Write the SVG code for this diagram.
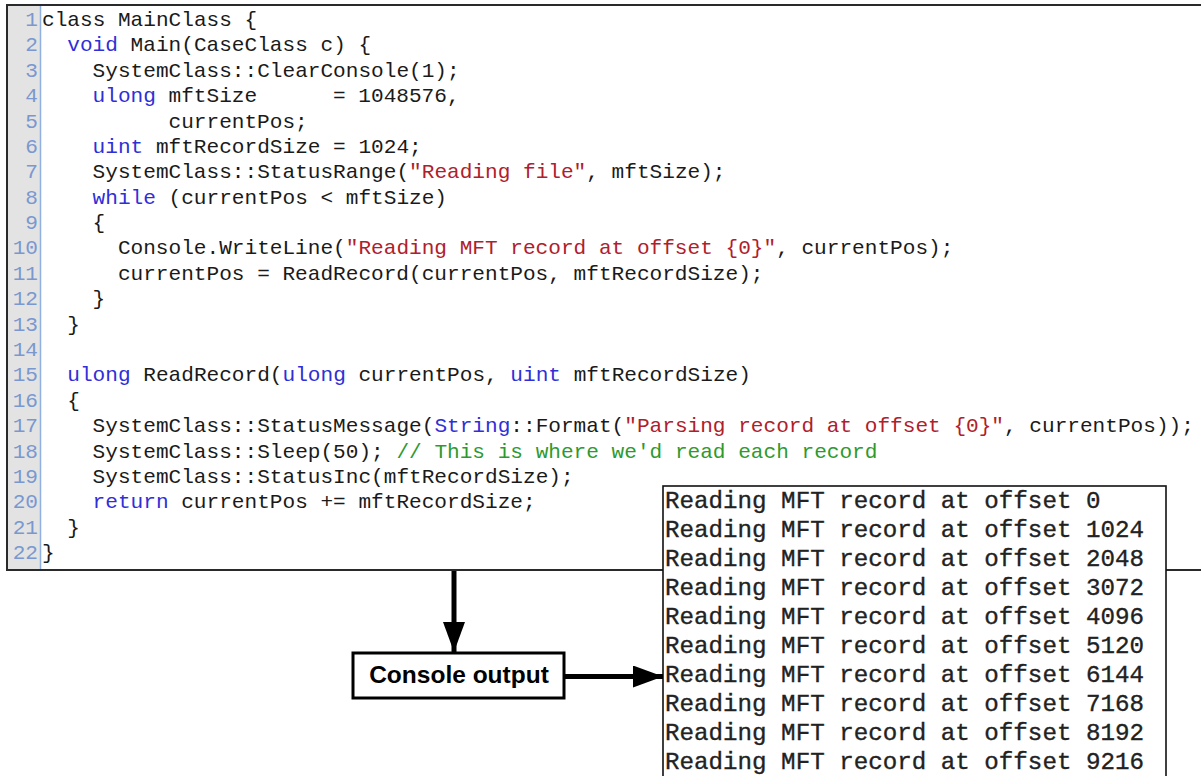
<svg xmlns="http://www.w3.org/2000/svg" width="1201" height="776" viewBox="0 0 1201 776">
<style>
.code{font-family:"Liberation Mono","DejaVu Sans Mono",monospace;font-size:21.1px;fill:#1a1a1a}
.ln{font-family:"Liberation Mono","DejaVu Sans Mono",monospace;font-size:21.1px;fill:#7a98cf;text-anchor:end}
.kw{fill:#2f2fd8}
.str{fill:#b0202a}
.cm{fill:#2e9a2e}
.con{font-family:"Courier New","Liberation Mono",monospace;font-size:24.2px;fill:#222;stroke:#222;stroke-width:0.35}
.lbl{font-family:"Liberation Sans",Arial,sans-serif;font-size:24.5px;font-weight:bold;fill:#000;text-anchor:middle}
</style>
<defs>
<marker id="ah" markerWidth="6" markerHeight="4.4" refX="6" refY="2.2" orient="auto" markerUnits="strokeWidth">
<path d="M0,0 L6,2.2 L0,4.4 Z" fill="#000"/>
</marker>
</defs>
<rect width="1201" height="776" fill="#fff"/>
<g id="code">
<rect x="7" y="5" width="1210" height="565" fill="#fff" stroke="#2a2a2a" stroke-width="2"/>
<rect x="8" y="6" width="32" height="563" fill="#e3e3e3"/>
<line x1="40.5" y1="6" x2="40.5" y2="569" stroke="#8fb0e0" stroke-width="1.5"/>
<g class="ln">
<text x="38" y="26">1</text><text x="38" y="51.4">2</text><text x="38" y="76.8">3</text><text x="38" y="102.1">4</text><text x="38" y="127.5">5</text><text x="38" y="152.9">6</text><text x="38" y="178.3">7</text><text x="38" y="203.7">8</text><text x="38" y="229">9</text><text x="38" y="254.4">10</text><text x="38" y="279.8">11</text><text x="38" y="305.2">12</text><text x="38" y="330.6">13</text><text x="38" y="355.9">14</text><text x="38" y="381.3">15</text><text x="38" y="406.7">16</text><text x="38" y="432.1">17</text><text x="38" y="457.5">18</text><text x="38" y="482.8">19</text><text x="38" y="508.2">20</text><text x="38" y="533.6">21</text><text x="38" y="559">22</text>
</g>
<g class="code">
<text x="42" y="26">class MainClass {</text>
<text x="67.3" y="51.4"><tspan class="kw">void</tspan> Main(CaseClass c) {</text>
<text x="92.6" y="76.8">SystemClass::ClearConsole(1);</text>
<text x="92.6" y="102.1"><tspan class="kw">ulong</tspan> mftSize<tspan x="333">= 1048576,</tspan></text>
<text x="168.5" y="127.5">currentPos;</text>
<text x="92.6" y="152.9"><tspan class="kw">uint</tspan> mftRecordSize = 1024;</text>
<text x="92.6" y="178.3">SystemClass::StatusRange(<tspan class="str">"Reading file"</tspan>, mftSize);</text>
<text x="92.6" y="203.7"><tspan class="kw">while</tspan> (currentPos &lt; mftSize)</text>
<text x="92.6" y="229">{</text>
<text x="117.9" y="254.4">Console.WriteLine(<tspan class="str">"Reading MFT record at offset {0}"</tspan>, currentPos);</text>
<text x="117.9" y="279.8">currentPos = ReadRecord(currentPos, mftRecordSize);</text>
<text x="92.6" y="305.2">}</text>
<text x="67.3" y="330.6">}</text>
<text x="67.3" y="381.3"><tspan class="kw">ulong</tspan> ReadRecord(<tspan class="kw">ulong</tspan> currentPos, <tspan class="kw">uint</tspan> mftRecordSize)</text>
<text x="67.3" y="406.7">{</text>
<text x="92.6" y="432.1">SystemClass::StatusMessage(<tspan class="kw">String</tspan>::Format(<tspan class="str">"Parsing record at offset {0}"</tspan>, currentPos));</text>
<text x="92.6" y="457.5">SystemClass::Sleep(50); <tspan class="cm">// This is where we'd read each record</tspan></text>
<text x="92.6" y="482.8">SystemClass::StatusInc(mftRecordSize);</text>
<text x="92.6" y="508.2"><tspan class="kw">return</tspan> currentPos += mftRecordSize;</text>
<text x="67.3" y="533.6">}</text>
<text x="42" y="559">}</text>
</g>
</g>
<g id="console">
<rect x="663" y="486" width="503" height="300" fill="#fff" stroke="#111" stroke-width="1.6"/>
<g class="con">
<text x="665" y="507.5">Reading MFT record at offset 0</text>
<text x="665" y="536.6">Reading MFT record at offset 1024</text>
<text x="665" y="565.7">Reading MFT record at offset 2048</text>
<text x="665" y="594.8">Reading MFT record at offset 3072</text>
<text x="665" y="623.9">Reading MFT record at offset 4096</text>
<text x="665" y="653">Reading MFT record at offset 5120</text>
<text x="665" y="682.1">Reading MFT record at offset 6144</text>
<text x="665" y="711.2">Reading MFT record at offset 7168</text>
<text x="665" y="740.3">Reading MFT record at offset 8192</text>
<text x="665" y="769.4">Reading MFT record at offset 9216</text>
</g>
</g>
<g id="label">
<rect x="353" y="653" width="211" height="45" fill="#fff" stroke="#000" stroke-width="3"/>
<text class="lbl" x="459" y="683">Console output</text>
</g>
<g id="connectors" stroke="#000" stroke-width="5" fill="none">
<line x1="454" y1="571" x2="454" y2="652" marker-end="url(#ah)"/>
<line x1="565" y1="676.5" x2="663" y2="676.5" marker-end="url(#ah)"/>
</g>
</svg>
